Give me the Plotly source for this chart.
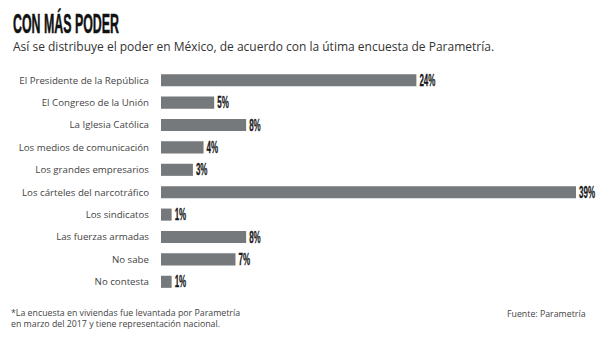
import plotly.graph_objects as go

categories = [
    "El Presidente de la República",
    "El Congreso de la Unión",
    "La Iglesia Católica",
    "Los medios de comunicación",
    "Los grandes empresarios",
    "Los cárteles del narcotráfico",
    "Los sindicatos",
    "Las fuerzas armadas",
    "No sabe",
    "No contesta",
]
values = [24, 5, 8, 4, 3, 39, 1, 8, 7, 1]
labels = [f"{v}%" for v in values]

W, H = 600, 338
left, right_edge = 161, 576
top, bottom = 68.8, 292.9
pw, ph = right_edge - left, bottom - top


def px(x):
    return (x - left) / pw


def py(y):
    return (bottom - y) / ph


fig = go.Figure(go.Bar(
    x=values, y=categories, orientation="h",
    marker=dict(color="#75797b", line=dict(width=0)),
    text=labels, textposition="outside", cliponaxis=False, constraintext="none",
    textfont=dict(family="Liberation Sans", size=16, color="#1a1a1a", weight="bold"),
    width=0.54,
))

fig.update_layout(
    width=W, height=H,
    margin=dict(l=left, r=W - right_edge, t=top, b=H - bottom),
    paper_bgcolor="white", plot_bgcolor="white",
    showlegend=False,
    xaxis=dict(range=[0, 39], visible=False, fixedrange=True),
    yaxis=dict(autorange="reversed", showgrid=False, zeroline=False, showline=False,
               ticks="", ticklabelstandoff=11,
               tickfont=dict(family="Open Sans", size=9.7, color="#444")),
    uniformtext=dict(mode=False),
)

fig.add_annotation(text="<b>CON MÁS PODER</b>", xref="paper", yref="paper",
                   x=px(11), y=py(23.5),
                   xanchor="left", yanchor="middle", showarrow=False,
                   font=dict(family="Liberation Sans", size=27, color="#111"))
fig.add_annotation(text="Así se distribuye el poder en México, de acuerdo con la útima encuesta de Parametría.",
                   xref="paper", yref="paper",
                   x=px(11), y=py(46),
                   xanchor="left", yanchor="middle", showarrow=False,
                   font=dict(family="Open Sans", size=12, color="#333"))
fig.add_annotation(text="*La encuesta en viviendas fue levantada por Parametría<br>en marzo del 2017 y tiene representación nacional.",
                   xref="paper", yref="paper",
                   x=px(9), y=py(318.5),
                   xanchor="left", yanchor="middle", align="left", showarrow=False,
                   font=dict(family="Open Sans", size=8.8, color="#444"))
fig.add_annotation(text="Fuente: Parametría",
                   xref="paper", yref="paper",
                   x=px(588), y=py(313.5),
                   xanchor="right", yanchor="middle", align="right", showarrow=False,
                   font=dict(family="Open Sans", size=8.8, color="#444"))

post = """
(function(){
  var gd = document.getElementById('{plot_id}');
  function squeeze(t, s){
    var bb = t.getBBox();
    t.setAttribute('textLength', bb.width * s);
    t.setAttribute('lengthAdjust', 'spacingAndGlyphs');
    var bb2 = t.getBBox();
    var x0 = parseFloat(t.getAttribute('x') || 0);
    t.setAttribute('x', x0 + (bb.x - bb2.x));
  }
  gd.querySelectorAll('g.annotation text').forEach(function(t){
    if (t.textContent.indexOf('CON M') === 0) {
      var w = t.getBBox().width;
      squeeze(t, 106 / w);
      t.style.stroke = '#111';
      t.style.strokeWidth = '0.5px';
    }
  });
  gd.querySelectorAll('text.bartext').forEach(function(t){
    squeeze(t, 0.5);
    t.style.stroke = '#1a1a1a';
    t.style.strokeWidth = '0.3px';
  });
})();
"""

fig.write_html("out.html", post_script=post)
